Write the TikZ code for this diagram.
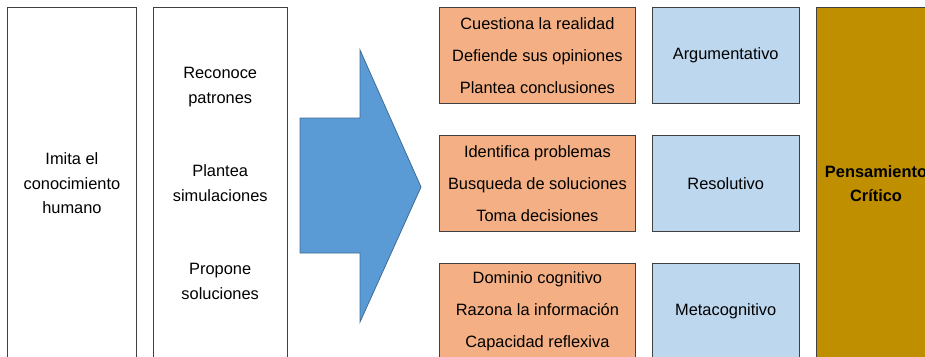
\documentclass[tikz,border=0pt]{standalone}
\usepackage{fontspec}
\setmainfont{Liberation Sans}
\usetikzlibrary{positioning}
\definecolor{salmon}{RGB}{244,176,132}
\definecolor{skyblue}{RGB}{189,215,238}
\definecolor{gold}{RGB}{191,143,0}
\definecolor{arrowblue}{RGB}{91,155,213}
\begin{document}
\begin{tikzpicture}[x=1pt,y=-1pt,node distance=16pt,line width=.8pt,
	every node/.style={font=\fontsize{16.4}{24.5}\selectfont,align=center,inner sep=0pt},
	column/.style={rectangle,draw=black!75,fill=white,minimum height=352pt},
	trait/.style={rectangle,draw=black!75,fill=salmon,minimum width=196pt,minimum height=96pt,font=\fontsize{16.4}{32}\selectfont},
	kind/.style={rectangle,draw=black!75,fill=skyblue,minimum width=147pt,minimum height=96pt}]
	\clip (0,0) rectangle (925,356);
	\fill[white] (0,0) rectangle (925,356);
	% left columns
	\node[column,minimum width=129pt,anchor=north west]	(imita) at (7,7)	{Imita el\\conocimiento\\humano};
	\node[column,minimum width=134pt] 	(reconoce) [right=16pt of imita]	{Reconoce\\patrones\\[49pt]Plantea\\simulaciones\\[49pt]Propone\\soluciones};
	% big arrow
	\draw[fill=arrowblue,draw=arrowblue!70!black] (300,118) -- (360,118) -- (360,50) -- (421,187) -- (360,322) -- (360,253) -- (300,253) -- cycle;
	% traits and kinds
	\node[trait,anchor=north west]	(cuestiona) at (439,7)	{Cuestiona la realidad\\Defiende sus opiniones\\Plantea conclusiones};
	\node[trait] 	(identifica) [below=31pt of cuestiona]	{Identifica problemas\\Busqueda de soluciones\\Toma decisiones};
	\node[trait] 	(dominio) [below=31pt of identifica]	{Dominio cognitivo\\Razona la información\\Capacidad reflexiva};
	\node[kind] 	(argum) [right=16pt of cuestiona]	{Argumentativo};
	\node[kind] 	(resol) [right=16pt of identifica]	{Resolutivo};
	\node[kind] 	(meta) [right=16pt of dominio]	{Metacognitivo};
	\node[column,fill=gold,minimum width=120pt,font=\bfseries\fontsize{16.4}{24}\selectfont]	(critico) [right=16pt of argum.north east,anchor=north west]	{Pensamiento\\Crítico};
\end{tikzpicture}
\end{document}
